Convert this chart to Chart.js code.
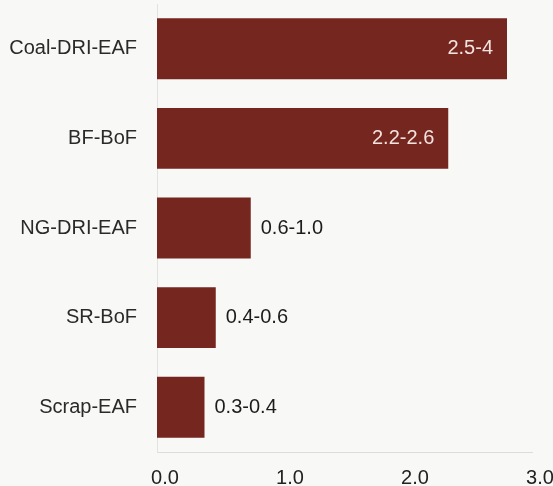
<!DOCTYPE html>
<html>
<head>
<meta charset="utf-8">
<script src="https://cdn.jsdelivr.net/npm/chart.js@4"></script>
<style>
  html, body { margin: 0; padding: 0; background: #f8f8f6; }
  #wrap { width: 553px; height: 486px; }
</style>
</head>
<body>
<div id="wrap"><canvas id="routeChart"></canvas></div>
<script>
const routes = ["Coal-DRI-EAF", "BF-BoF", "NG-DRI-EAF", "SR-BoF", "Scrap-EAF"];
const values = [2.8, 2.33, 0.75, 0.47, 0.38];
const rangeLabels = ["2.5-4", "2.2-2.6", "0.6-1.0", "0.4-0.6", "0.3-0.4"];
const xTicks = [0, 1, 2, 3];

const barColor = "#75261f";
const fontFamily = "'Liberation Sans', Arial, sans-serif";

// draws the range text at the end of each bar (inside if the bar is long)
const rangeLabelPlugin = {
  id: "rangeLabels",
  afterDatasetsDraw(chart) {
    const ctx = chart.ctx;
    const meta = chart.getDatasetMeta(0);
    ctx.save();
    ctx.font = "20px " + fontFamily;
    ctx.textBaseline = "middle";
    meta.data.forEach((bar, i) => {
      const width = bar.x - bar.base;
      if (width > 150) {
        ctx.fillStyle = "#f3e3df";
        ctx.textAlign = "right";
        ctx.fillText(rangeLabels[i], bar.x - 14, bar.y);
      } else {
        ctx.fillStyle = "#1c1c1c";
        ctx.textAlign = "left";
        ctx.fillText(rangeLabels[i], bar.x + 10, bar.y);
      }
    });
    ctx.restore();
  },
};

const ctx = document.getElementById("routeChart").getContext("2d");
new Chart(ctx, {
  type: "bar",
  data: {
    labels: routes,
    datasets: [
      {
        data: values,
        backgroundColor: barColor,
        borderWidth: 0,
        barPercentage: 0.68,
        categoryPercentage: 1.0,
      },
    ],
  },
  options: {
    indexAxis: "y",
    responsive: true,
    maintainAspectRatio: false,
    animation: false,
    layout: { padding: { top: 4, right: 21, left: 0, bottom: 0 } },
    plugins: {
      legend: { display: false },
      tooltip: { enabled: false },
    },
    scales: {
      x: {
        min: 0,
        max: 3,
        afterBuildTicks: (scale) => {
          scale.ticks = xTicks.map((v) => ({ value: v }));
        },
        afterFit: (scale) => {
          scale.height = 34;
          scale.paddingLeft = 0;
          scale.paddingRight = 0;
        },
        grid: { display: false, drawTicks: false },
        border: { display: true, color: "#dcdcdc", width: 1 },
        ticks: {
          padding: 14,
          labelOffset: 8,
          color: "#222",
          font: { family: fontFamily, size: 20 },
          callback: (v) => Number(v).toFixed(1),
        },
      },
      y: {
        afterFit: (scale) => {
          scale.width = 157;
          scale.paddingTop = 0;
          scale.paddingBottom = 0;
        },
        grid: { display: false, drawTicks: false },
        border: { display: true, color: "#e2e2e2", width: 1 },
        ticks: {
          padding: 20,
          color: "#2a2a2a",
          font: { family: fontFamily, size: 20 },
        },
      },
    },
  },
  plugins: [rangeLabelPlugin],
});
</script>
</body>
</html>
